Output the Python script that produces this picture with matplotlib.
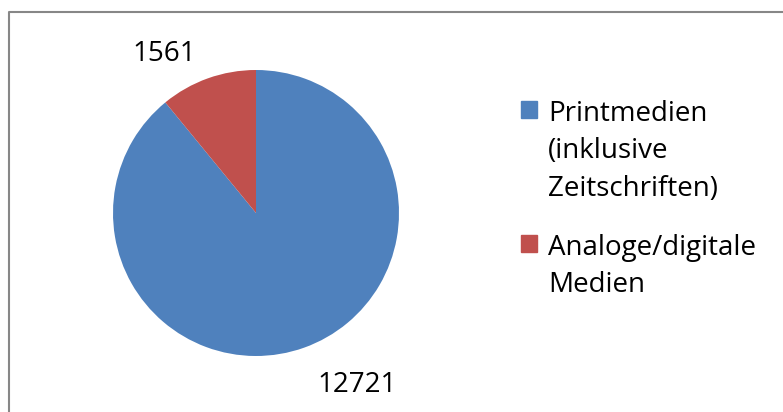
import numpy as np
import matplotlib.pyplot as plt
from matplotlib.patches import Rectangle
from matplotlib.lines import Line2D

categories = ["Printmedien\n(inklusive\nZeitschriften)", "Analoge/digitale\nMedien"]
values = [12721, 1561]
colors = ["#4F81BD", "#C0504D"]

plt.rcParams['font.family'] = ['Open Sans', 'DejaVu Sans']

W, H = 783, 412
fig = plt.figure(figsize=(W / 100, H / 100), dpi=100)

# pie: centre (256, 213), radius 143 px
cx, cy, r = 256, 213, 143
ax = fig.add_axes([(cx - r) / W, (H - cy - r) / H, 2 * r / W, 2 * r / H])
wedges, _ = ax.pie(values, colors=colors, startangle=90, counterclock=False,
                   radius=1, wedgeprops=dict(linewidth=0))
ax.set_xlim(-1, 1)
ax.set_ylim(-1, 1)
ax.set_aspect('equal')

# value labels outside the slices
label_pos = [(0.706, -1.203), (-0.643, 1.112)]
for v, (lx, ly) in zip(values, label_pos):
    ax.text(lx, ly, str(v), ha='center', va='center', fontsize=20, color='black')

# legend
ly = 101
for lab, col in zip(categories, colors):
    fig.patches.append(Rectangle((521 / W, 1 - (ly + 17) / H), 16 / W, 17 / H,
                                 transform=fig.transFigure, color=col))
    nlines = lab.count("\n") + 1
    fig.text(548 / W, 1 - (ly - 1) / H, lab, ha='left', va='top',
             fontsize=20, linespacing=1.45)
    ly += 38 * nlines + 20

# chart border (top and left visible)
fig.lines.append(Line2D([9 / W, 9 / W, 1], [0, 1 - 12 / H, 1 - 12 / H],
                        transform=fig.transFigure, color="#878787", linewidth=1.5))

fig.savefig("out.png", dpi=100)
